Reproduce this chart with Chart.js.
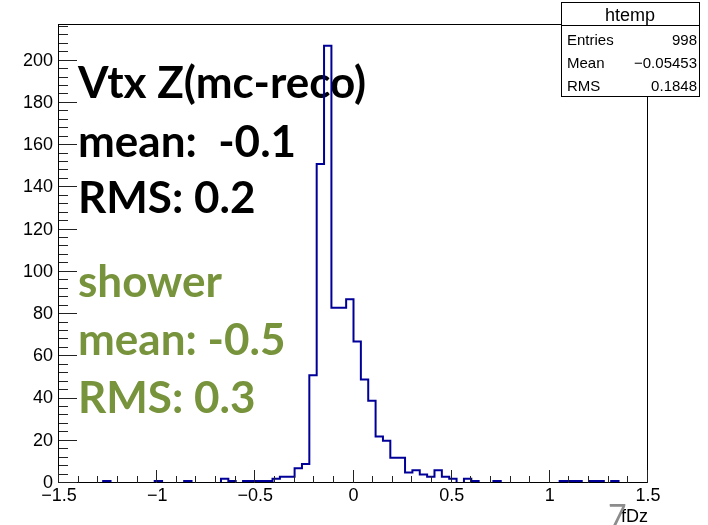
<!DOCTYPE html>
<html><head><meta charset="utf-8">
<script src="https://cdn.jsdelivr.net/npm/chart.js@4/dist/chart.umd.min.js"></script>
<style>html,body{margin:0;padding:0;background:#fff;}#wrap{width:708px;height:525px;}</style>
</head><body><div id="wrap"><canvas id="c" width="708" height="525"></canvas></div>
<script>
// ---- data ----
const xMin = -1.5;
const xMax = 1.5;
const nBins = 80;
const counts = [
  0,0,0,0,0,0,1,0,0,0,
  0,0,0,1,0,0,0,1,0,0,
  0,0,2,1,0,1,1,1,1,2,
  3,3,7,9,51,151,207,83,83,87,
  67,49,39,22,20,12,12,5,6,4,
  3,6,3,2,0,2,1,0,0,1,
  0,0,0,0,0,0,0,0,1,1,
  1,0,1,1,0,1,0,0,0,0
];
const yMax = 217.35;
const xTickValues = [-1.5, -1, -0.5, 0, 0.5, 1, 1.5];
const xTickLabels = ['\u22121.5', '\u22121', '\u22120.5', '0', '0.5', '1', '1.5'];
const yTickValues = [0, 20, 40, 60, 80, 100, 120, 140, 160, 180, 200];
const yTickLabels = ['0', '20', '40', '60', '80', '100', '120', '140', '160', '180', '200'];
const statsTitle = 'htemp';
const statsNames = ['Entries', 'Mean', 'RMS'];
const statsValues = ['998', '\u22120.05453', '0.1848'];
const noteBlack = ['Vtx Z(mc-reco)', 'mean:  -0.1', 'RMS: 0.2'];
const noteGreen = ['shower', 'mean: -0.5', 'RMS: 0.3'];
const axisTitle = 'fDz';
const pageNumber = '7';

// ---- build step points from bins ----
const binW = (xMax - xMin) / nBins;
const points = counts.map((c, k) => ({x: xMin + k * binW, y: c}));
points.push({x: xMax, y: counts[counts.length - 1]});

const decor = {
  id: 'decor',
  beforeDatasetsDraw(chart) {
    const ctx = chart.ctx;
    ctx.save();
    ctx.textAlign = 'left';
    ctx.textBaseline = 'alphabetic';
    ctx.font = 'bold 44px Lato';
    ctx.fillStyle = '#000000';
    const bBase = [98, 157, 213];
    noteBlack.forEach((t, i) => ctx.fillText(t, 78, bBase[i]));
    ctx.fillStyle = '#77933C';
    const gBase = [297, 355, 413];
    noteGreen.forEach((t, i) => ctx.fillText(t, 78, gBase[i]));
    ctx.restore();
  },
  afterDatasetsDraw(chart) {
    const ctx = chart.ctx;
    const a = chart.chartArea;
    const xs = chart.scales.x, ys = chart.scales.y;
    const L = Math.round(a.left), R = Math.round(a.right), T = Math.round(a.top), B = Math.round(a.bottom);
    ctx.save();
    ctx.strokeStyle = '#000';
    ctx.lineWidth = 1;
    ctx.strokeRect(L - 0.5, T + 0.5, R - L, B - T - 1);
    // y ticks (inward)
    ctx.beginPath();
    for (let v = 0; v <= yMax; v += 4) {
      const y = Math.round(ys.getPixelForValue(v)) - 0.5;
      const len = (v % 20 === 0) ? 18 : 9;
      ctx.moveTo(L, y); ctx.lineTo(L + len, y);
    }
    // x ticks (inward)
    for (let i = 0; i <= 30; i++) {
      const v = xMin + i * 0.1;
      const x = Math.round(xs.getPixelForValue(v)) - 0.5;
      const len = (i % 5 === 0) ? 13 : 7;
      ctx.moveTo(x, B); ctx.lineTo(x, B - len);
    }
    ctx.strokeStyle = '#222';
    ctx.stroke();
    // stats box
    const bx = 561, by = 2, bw = 138, bh = 94;
    ctx.fillStyle = '#fff';
    ctx.fillRect(bx, by, bw, bh);
    ctx.strokeStyle = '#000';
    ctx.strokeRect(bx + 0.5, by + 0.5, bw, bh);
    ctx.beginPath(); ctx.moveTo(bx, 25.5); ctx.lineTo(bx + bw, 25.5); ctx.stroke();
    ctx.fillStyle = '#000';
    ctx.font = '18px "Liberation Sans"';
    ctx.textAlign = 'center';
    ctx.fillText(statsTitle, bx + bw / 2, 21);
    ctx.font = '15px "Liberation Sans"';
    const rb = [45, 68, 91];
    statsNames.forEach((n, i) => {
      ctx.textAlign = 'left'; ctx.fillText(n, 567, rb[i]);
      ctx.textAlign = 'right'; ctx.fillText(statsValues[i], 697, rb[i]);
    });
    // axis title
    ctx.font = '18px "Liberation Sans"';
    ctx.textAlign = 'right';
    ctx.fillText(axisTitle, R, 522);
    // page number
    ctx.fillStyle = '#8C8C8C';
    ctx.font = '32px Lato';
    ctx.textAlign = 'left';
    ctx.fillText(pageNumber, 608, 528);
    ctx.restore();
  }
};

new Chart(document.getElementById('c'), {
  type: 'line',
  data: {
    datasets: [{
      data: points,
      stepped: 'before',
      borderColor: '#000099',
      borderWidth: 2,
      pointRadius: 0,
      fill: false,
      tension: 0
    }]
  },
  options: {
    responsive: false,
    animation: false,
    devicePixelRatio: 1,
    layout: {padding: {left: 0, right: 60, top: 24, bottom: 0}},
    plugins: {legend: {display: false}, tooltip: {enabled: false}, title: {display: false}},
    scales: {
      x: {
        type: 'linear', min: xMin, max: xMax,
        afterBuildTicks: s => { s.ticks = xTickValues.map(v => ({value: v})); },
        afterFit: s => { s.height = 42; },
        ticks: {
          callback: v => xTickLabels[xTickValues.indexOf(v)],
          font: {family: 'Liberation Sans', size: 18}, color: '#000',
          padding: 2, maxRotation: 0, autoSkip: false
        },
        grid: {display: false, drawTicks: false},
        border: {display: false}
      },
      y: {
        type: 'linear', min: 0, max: yMax,
        afterBuildTicks: s => { s.ticks = yTickValues.map(v => ({value: v})); },
        afterFit: s => { s.width = 59; },
        ticks: {
          callback: v => yTickLabels[yTickValues.indexOf(v)],
          font: {family: 'Liberation Sans', size: 18}, color: '#000',
          padding: 6, autoSkip: false
        },
        grid: {display: false, drawTicks: false},
        border: {display: false}
      }
    }
  },
  plugins: [decor]
});
</script></body></html>
